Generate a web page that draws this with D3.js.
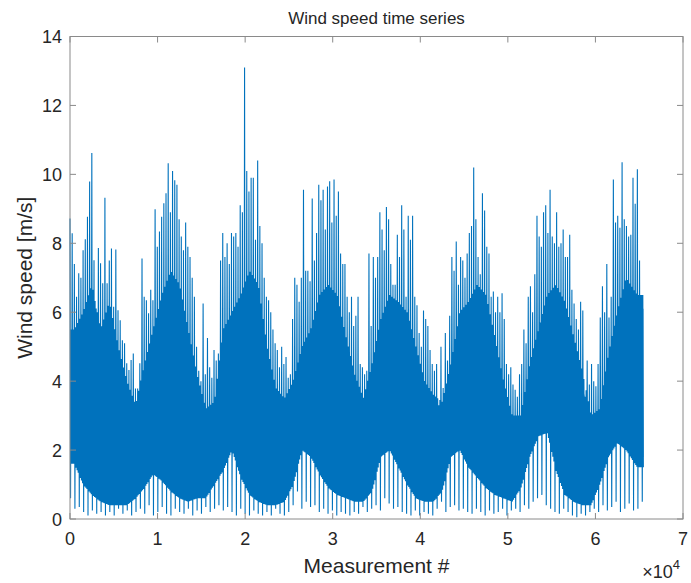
<!doctype html>
<html>
<head>
<meta charset="UTF-8">
<title>Wind speed time series</title>
<script src="https://cdn.jsdelivr.net/npm/d3@7"></script>
<style>
  body { margin: 0; background: #fff; }
  text { font-family: "Liberation Sans", Arial, Helvetica, sans-serif; fill: #262626; }
</style>
</head>
<body>
<svg id="chart" width="691" height="583"></svg>
<script>
// measurement count and axis ticks
var nMeasure = 65536;
var xTicks = [0, 1, 2, 3, 4, 5, 6, 7];          // x 10^4
var yTicks = [0, 2, 4, 6, 8, 10, 12, 14];

var peakVals = [
  8.72, 8.29, 7.4, 6.45, 7.13, 7.0, 7.8, 8.12, 8.77, 9.79,
  10.62, 7.51, 6.11, 7.86, 7.42, 6.84, 9.32, 6.84, 7.5, 7.85,
  6.16, 7.82, 6.06, 5.77, 5.19, 5.1, 4.52, 4.32, 4.61, 4.8,
  3.79, 3.79, 4.52, 7.56, 6.45, 6.35, 5.97, 6.65, 6.35, 8.99,
  7.9, 8.34, 8.77, 9.16, 9.45, 10.32, 8.9, 10.1, 9.83, 9.7,
  8.7, 8.2, 7.8, 8.6, 7.9, 7.6, 7.0, 6.45, 5.0, 4.3,
  4.0, 6.25, 4.2, 5.25, 4.4, 4.1, 4.9, 4.6, 4.8, 7.5,
  8.3, 7.6, 8.0, 7.4, 8.3, 8.2, 8.3, 7.9, 9.1, 8.9,
  13.1, 10.1, 9.5, 9.9, 9.9, 8.1, 10.4, 8.5, 8.0, 7.0,
  6.45, 6.35, 6.0, 5.5, 5.1, 4.9, 4.4, 5.0, 4.5, 4.7,
  4.1, 4.2, 5.8, 7.0, 6.8, 6.3, 7.0, 9.55, 7.2, 7.2,
  6.9, 9.3, 7.5, 8.3, 9.7, 9.25, 9.55, 8.4, 9.65, 9.8,
  8.6, 9.85, 8.8, 9.5, 7.7, 7.4, 7.4, 6.45, 6.0, 6.45,
  5.6, 5.9, 6.45, 4.5, 4.4, 4.2, 4.3, 7.7, 5.6, 7.6,
  7.0, 7.6, 8.9, 8.4, 7.8, 9.05, 8.7, 7.4, 6.8, 6.8,
  8.25, 7.6, 9.1, 8.4, 6.45, 8.8, 8.1, 8.8, 6.45, 6.2,
  5.4, 5.0, 6.05, 5.8, 5.6, 4.9, 4.5, 4.3, 4.5, 3.3,
  5.0, 3.8, 5.4, 4.6, 5.9, 7.6, 7.2, 8.05, 6.8, 7.6,
  7.5, 7.0, 7.7, 8.3, 8.5, 10.2, 8.7, 7.6, 7.1, 9.45,
  8.95, 7.9, 7.7, 6.45, 6.6, 6.0, 6.45, 6.0, 6.55, 5.8,
  4.5, 4.2, 4.4, 3.9, 3.75, 3.55, 4.2, 4.5, 5.5, 5.1,
  6.45, 6.75, 6.0, 7.1, 8.8, 8.2, 7.9, 8.9, 9.1, 8.3,
  9.55, 8.2, 8.0, 8.9, 7.9, 8.0, 8.4, 7.6, 7.6, 8.25,
  6.65, 6.25, 5.8, 5.5, 6.3, 6.05, 3.55, 4.6, 3.9, 4.5,
  4.0, 3.85, 4.5, 5.85, 6.75, 6.0, 7.4, 5.85, 6.45, 9.85,
  8.6, 8.8, 8.45, 10.35, 8.7, 8.5, 8.2, 8.25, 9.9, 9.15,
  10.15, 7.5, 6.5
];

// lowest value in every block of ~500 measurements
var troughVals = [
  0.6, 0.3, 0.35, 0.2, 0.1, 0.25, 0.15, 0.2, 0.1, 0.2, 0.1, 0.3,
  0.15, 0.25, 0.1, 0.2, 0.3, 0.15, 0.4, 0.1, 0.2, 0.35, 0.15, 0.1,
  0.3, 0.2, 0.15, 0.3, 0.1, 0.25, 0.15, 0.35, 0.2, 0.3, 0.4, 0.25,
  0.35, 0.2, 0.1, 0.3, 0.15, 0.1, 0.25, 0.15, 0.1, 0.2, 0.1, 0.3,
  0.15, 0.1, 0.2, 0.4, 0.8, 0.3, 0.5, 0.35, 0.4, 0.2, 0.3, 0.15,
  0.25, 0.1, 0.2, 0.15, 0.1, 0.2, 0.15, 0.35, 0.2, 0.3, 0.4, 0.25,
  0.6, 0.45, 0.3, 0.35, 0.2, 0.15, 0.1, 0.25, 0.1, 0.2, 0.15, 0.1,
  0.3, 0.5, 0.2, 0.35, 0.4, 0.25, 0.3, 0.2, 0.15, 0.3, 0.2, 0.1,
  0.25, 0.15, 0.2, 0.3, 0.1, 0.25, 0.3, 0.2, 0.4, 0.3, 0.5, 0.6,
  0.7, 0.4, 0.3, 0.2, 0.15, 0.3, 0.2, 0.1, 0.05, 0.15, 0.1, 0.2,
  0.3, 0.2, 0.4, 0.25, 0.35, 0.5, 0.2, 0.3, 0.45, 0.25, 0.3, 0.5
];

// typical upper / lower level of the dense trace, one value per block of 1000
var coreX = [500, 1500, 2500, 3500, 4500, 5500, 6500, 7500, 8500, 9500,
  10500, 11500, 12500, 13500, 14500, 15500, 16500, 17500, 18500, 19500,
  20500, 21500, 22500, 23500, 24500, 25500, 26500, 27500, 28500, 29500,
  30500, 31500, 32500, 33500, 34500, 35500, 36500, 37500, 38500, 39500,
  40500, 41500, 42500, 43500, 44500, 45500, 46500, 47500, 48500, 49500,
  50500, 51500, 52500, 53500, 54500, 55500, 56500, 57500, 58500, 59500,
  60500, 61500, 62500, 63500, 64768];
var coreHi = [5.5, 6.0, 6.8, 5.5, 6.3, 5.0, 4.0, 3.3, 4.5, 5.5,
  6.5, 7.2, 6.8, 5.5, 4.2, 3.2, 3.4, 5.5, 6.0, 6.5,
  7.2, 6.8, 5.0, 3.8, 3.5, 4.0, 5.0, 5.5, 6.5, 6.8,
  6.5, 5.3, 4.2, 3.5, 4.5, 5.8, 6.5, 6.3, 6.0, 5.0,
  4.0, 3.6, 3.4, 4.5, 6.0, 6.3, 6.8, 6.5, 5.3, 4.0,
  3.0, 3.0, 4.5, 5.5, 6.5, 6.8, 6.3, 5.3, 4.3, 3.0,
  3.2, 4.8, 6.0, 7.0, 6.5];
var coreLo = [1.6, 1.0, 0.7, 0.5, 0.4, 0.4, 0.4, 0.6, 0.9, 1.3,
  1.1, 0.8, 0.6, 0.5, 0.6, 0.6, 1.0, 1.4, 2.0, 1.2,
  0.7, 0.5, 0.4, 0.4, 0.5, 1.0, 2.0, 1.8, 1.3, 0.9,
  0.7, 0.6, 0.5, 0.5, 0.8, 1.8, 2.0, 1.5, 1.0, 0.6,
  0.5, 0.5, 0.8, 1.8, 2.0, 1.5, 1.2, 0.9, 0.7, 0.6,
  0.5, 0.9, 1.8, 2.4, 2.5, 1.4, 0.7, 0.5, 0.4, 0.4,
  1.0, 1.8, 2.2, 2.0, 1.5];

var lineColor = "#0072BD";
var W = 691, H = 583;
var m = {left: 70, right: 8, top: 36.5, bottom: 64};
var pw = W - m.left - m.right, ph = H - m.top - m.bottom;

var svg = d3.select("#chart");
var g = svg.append("g").attr("transform", "translate(" + m.left + "," + m.top + ")");

var x = d3.scaleLinear().domain([0, 70000]).range([0, pw]);
var y = d3.scaleLinear().domain([0, 14]).range([ph, 0]);
var hiAt = d3.scaleLinear().domain(coreX).range(coreHi).clamp(true);
var loAt = d3.scaleLinear().domain(coreX).range(coreLo).clamp(true);

// trace vertices: each block goes peak -> low -> typical high -> low
var step = nMeasure / peakVals.length;
var pts = [];
peakVals.forEach(function(p, k){
  var x0 = k * step;
  pts.push([x0, p]);
  pts.push([x0 + step / 4, (k % 2 === 0 && troughVals[k / 2] != null) ? troughVals[k / 2] : loAt(x0 + step / 4)]);
  pts.push([x0 + step / 2, hiAt(x0 + step / 2)]);
  pts.push([x0 + 3 * step / 4, loAt(x0 + 3 * step / 4)]);
});

// filler under the trace so the dense middle stays solid
var fill = d3.range(0, nMeasure, step).concat([nMeasure - step / 4]);
var band = d3.area()
  .x(function(d){ return x(d); })
  .y0(function(d){ return y(loAt(d) + 0.3); })
  .y1(function(d){ return y(hiAt(d) - 0.4); });
g.append("path").datum(fill).attr("d", band).attr("fill", lineColor);

var line = d3.line()
  .x(function(d){ return x(d[0]); })
  .y(function(d){ return y(d[1]); });
g.append("path").datum(pts).attr("d", line)
  .attr("fill", "none").attr("stroke", lineColor)
  .attr("stroke-width", 1.1).attr("stroke-linejoin", "bevel");

// axes box and ticks (ticks inside, box on)
var axisColor = "#8a8a8a";
g.append("rect").attr("x", 0).attr("y", 0).attr("width", pw).attr("height", ph)
  .attr("fill", "none").attr("stroke", axisColor).attr("stroke-width", 1);

var tl = 6;
xTicks.forEach(function(t){
  var xx = x(t * 10000);
  g.append("line").attr("x1", xx).attr("x2", xx).attr("y1", ph).attr("y2", ph - tl).attr("stroke", axisColor);
  g.append("line").attr("x1", xx).attr("x2", xx).attr("y1", 0).attr("y2", tl).attr("stroke", axisColor);
  g.append("text").attr("x", xx).attr("y", ph + 26).attr("text-anchor", "middle")
    .attr("font-size", 18).text(t);
});
yTicks.forEach(function(t){
  var yy = y(t);
  g.append("line").attr("x1", 0).attr("x2", tl).attr("y1", yy).attr("y2", yy).attr("stroke", axisColor);
  g.append("line").attr("x1", pw).attr("x2", pw - tl).attr("y1", yy).attr("y2", yy).attr("stroke", axisColor);
  g.append("text").attr("x", -8).attr("y", yy + 6.5).attr("text-anchor", "end")
    .attr("font-size", 18).text(t);
});

// titles and labels
svg.append("text").attr("x", m.left + pw / 2).attr("y", 24).attr("text-anchor", "middle")
  .attr("font-size", 17).text("Wind speed time series");
svg.append("text").attr("x", m.left + pw / 2).attr("y", 573).attr("text-anchor", "middle")
  .attr("font-size", 21).text("Measurement #");
svg.append("text").attr("transform", "translate(32," + (m.top + ph / 2) + ") rotate(-90)")
  .attr("text-anchor", "middle").attr("font-size", 21).text("Wind speed [m/s]");

var ex = svg.append("text").attr("x", 680).attr("y", 578).attr("text-anchor", "end").attr("font-size", 18);
ex.append("tspan").text("\u00d710");
ex.append("tspan").attr("dy", -9).attr("font-size", 13).text("4");
</script>
</body>
</html>
